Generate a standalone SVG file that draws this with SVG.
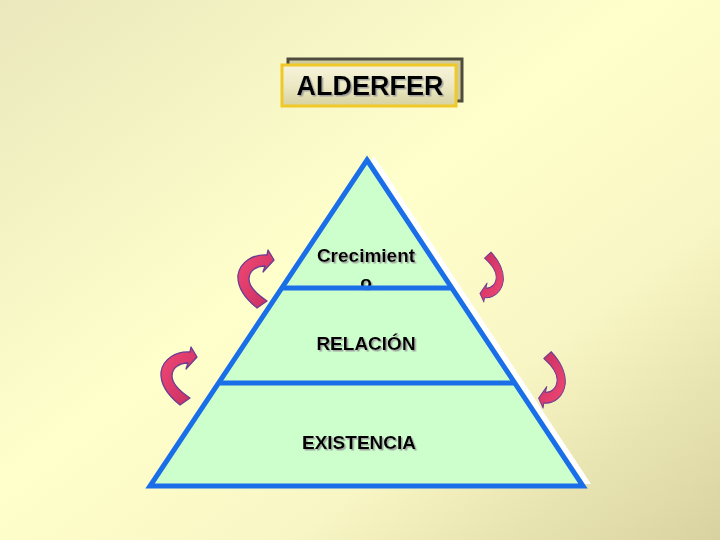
<svg xmlns="http://www.w3.org/2000/svg" width="720" height="540" viewBox="0 0 720 540">
<defs>
<linearGradient id="bg" x1="0" y1="0" x2="1" y2="1">
<stop offset="0" stop-color="#EAE8BC"/>
<stop offset="0.45" stop-color="#FFFFCC"/>
<stop offset="0.7" stop-color="#F8F6C4"/>
<stop offset="1" stop-color="#D8D2A0"/>
</linearGradient>
<linearGradient id="boxfill" x1="0" y1="0" x2="0" y2="1">
<stop offset="0" stop-color="#F6F4DC"/>
<stop offset="0.5" stop-color="#ECE8C4"/>
<stop offset="1" stop-color="#D6D2A0"/>
</linearGradient>
<linearGradient id="arrowfill" x1="0" y1="0" x2="1" y2="1">
<stop offset="0" stop-color="#F24A74"/>
<stop offset="0.6" stop-color="#D8386A"/>
<stop offset="1" stop-color="#C0305C"/>
</linearGradient>
<filter id="tshadow" x="-10%" y="-20%" width="130%" height="150%">
<feDropShadow dx="1.5" dy="1.5" stdDeviation="0.3" flood-color="#9a9a9a" flood-opacity="0.9"/>
</filter>
<path id="arrow" d="M 37,10 L 31,0 L 30,5 C 16,4 3,12 1,25 C 0,38 10,50 20,58 L 30,51 C 21,45 12,37 12,29 C 12,21 19,16 28,16 L 26,22 Z"/>
<style>
.lbl{font-family:"Liberation Sans",Arial,sans-serif;font-weight:bold;font-size:19px;fill:#000;text-anchor:middle;filter:url(#tshadow)}
.edge{fill:none;stroke:#1A6EE8;stroke-width:5;stroke-linejoin:miter}
.div{stroke:#1A6EE8;stroke-width:5}
.arr{fill:url(#arrowfill);stroke:#6A3C92;stroke-width:1.3;stroke-linejoin:round}
</style>
</defs>
<rect x="0" y="0" width="720" height="540" fill="url(#bg)"/>

<g id="title">
<rect x="288" y="59" width="174" height="42" fill="#CFCB9C" stroke="#4E4C3C" stroke-width="3"/>
<rect x="282" y="65" width="174" height="41" fill="url(#boxfill)" stroke="#F0C828" stroke-width="3"/>
<text x="370" y="95" font-family="'Liberation Sans',Arial,sans-serif" font-weight="bold" font-size="27" text-anchor="middle" fill="#000" filter="url(#tshadow)">ALDERFER</text>
</g>

<g id="pyramid">
<polygon points="374,156 591,484 157,484" fill="#FFFFFF"/>
<polygon points="367,160 583,486 150,486" fill="#CCFFCC"/>
</g>

<g id="crecimiento">
<text class="lbl" x="366" y="262">Crecimient</text>
<text class="lbl" x="366" y="289">o</text>
</g>
<g id="relacion">
<text class="lbl" x="366" y="350">RELACIÓN</text>
</g>
<g id="existencia">
<text class="lbl" x="359" y="449">EXISTENCIA</text>
</g>

<g id="pyramid-lines">
<polygon class="edge" points="367,160 583,486 150,486"/>
<line class="div" x1="281" y1="288" x2="453" y2="288"/>
<line class="div" x1="220" y1="383" x2="514" y2="383"/>
</g>

<g id="connectors">
<use href="#arrow" class="arr" transform="translate(237,250)"/>
<use href="#arrow" class="arr" transform="translate(160,347)"/>
<use href="#arrow" class="arr" transform="translate(504,302) scale(-0.65,-0.86)"/>
<use href="#arrow" class="arr" transform="translate(566,408) scale(-0.74,-0.97)"/>
</g>
</svg>
